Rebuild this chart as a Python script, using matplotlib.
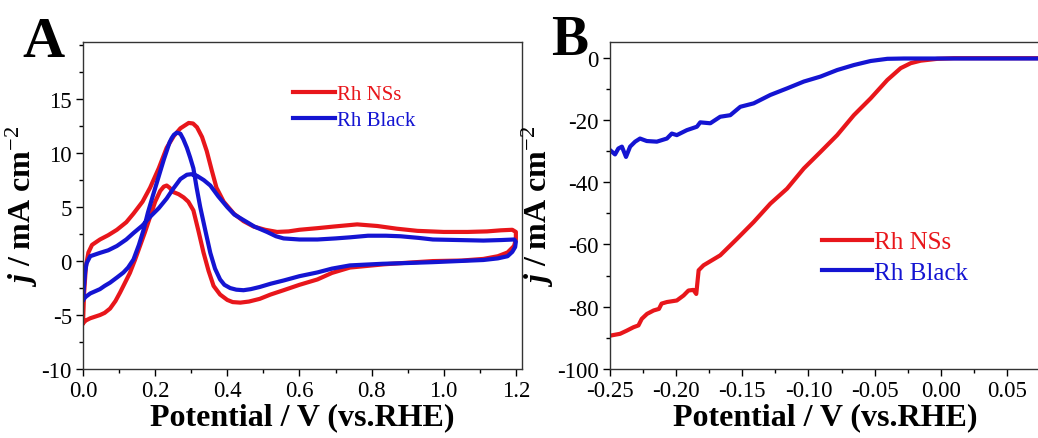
import numpy as np
import matplotlib
matplotlib.use('Agg')
import matplotlib.pyplot as plt
from matplotlib.ticker import MultipleLocator

plt.rcParams['font.family'] = 'Liberation Serif'
plt.rcParams['mathtext.fontset'] = 'custom'
plt.rcParams['mathtext.rm'] = 'Liberation Serif'
plt.rcParams['mathtext.it'] = 'Liberation Serif:italic:bold'
plt.rcParams['mathtext.bf'] = 'Liberation Serif:bold'
plt.rcParams['axes.unicode_minus'] = False

red = '#e8161b'
blue = '#1414d2'

# panel A: CV loops (potential V, current mA cm-2)
cv_nss_x = [0, 0.003, 0.008, 0.015, 0.025, 0.047, 0.07, 0.094, 0.12, 0.14, 0.165, 0.186, 0.21, 0.232,
            0.252, 0.27, 0.293, 0.305, 0.316, 0.33, 0.343, 0.357, 0.37, 0.39, 0.418, 0.445, 0.473,
            0.505, 0.538, 0.57, 0.6, 0.65, 0.695, 0.76, 0.816, 0.87, 0.927, 1.0, 1.066, 1.12, 1.158,
            1.19, 1.2, 1.2, 1.195, 1.177, 1.15, 1.11, 1.05, 0.97, 0.9, 0.834, 0.74, 0.69, 0.65, 0.6,
            0.556, 0.52, 0.49, 0.46, 0.436, 0.415, 0.4, 0.38, 0.362, 0.348, 0.334, 0.32, 0.306, 0.292,
            0.279, 0.265, 0.25, 0.24, 0.232, 0.224, 0.214, 0.2, 0.186, 0.172, 0.158, 0.144, 0.13,
            0.115, 0.103, 0.09, 0.075, 0.06, 0.047, 0.02, 0.008, 0]
cv_nss_y = [-5.75, -3, -0.5, 0.8, 1.5, 2.0, 2.4, 2.9, 3.6, 4.4, 5.5, 6.8, 8.6, 10.5,
            11.6, 12.3, 12.8, 12.75, 12.4, 11.5, 10.2, 8.4, 6.8, 5.5, 4.4, 3.7, 3.2,
            2.9, 2.7, 2.75, 2.9, 3.05, 3.2, 3.4, 3.25, 3.0, 2.8, 2.7, 2.7, 2.75, 2.85,
            2.9, 2.7, 2.0, 1.4, 0.8, 0.45, 0.2, 0.05, 0, -0.15, -0.3, -0.6, -1.1, -1.7, -2.2,
            -2.7, -3.1, -3.5, -3.75, -3.85, -3.8, -3.6, -3.1, -2.3, -0.9, 0.8, 2.8, 4.7, 5.5,
            5.9, 6.2, 6.4, 6.8, 7.0, 6.9, 6.5, 5.5, 4.1, 2.7, 1.4, 0.1, -1.1,
            -2.1, -2.9, -3.7, -4.4, -4.8, -5.0, -5.3, -5.5, -5.75]

cv_black_x = [0, 0.003, 0.006, 0.01, 0.02, 0.047, 0.07, 0.094, 0.12, 0.14, 0.165, 0.186, 0.21, 0.232,
              0.25, 0.27, 0.288, 0.3, 0.316, 0.335, 0.353, 0.375, 0.4, 0.42, 0.445, 0.475, 0.51,
              0.535, 0.556, 0.6, 0.65, 0.7, 0.74, 0.79, 0.84, 0.88, 0.93, 0.97, 1.04, 1.11, 1.16,
              1.195, 1.2, 1.198, 1.19, 1.177, 1.15, 1.11, 1.04, 0.97, 0.9, 0.83, 0.74, 0.69, 0.65,
              0.6, 0.556, 0.52, 0.49, 0.465, 0.445, 0.425, 0.408, 0.392, 0.38, 0.366, 0.353, 0.34,
              0.325, 0.315, 0.306, 0.297, 0.288, 0.278, 0.27, 0.26, 0.252, 0.246, 0.24, 0.232,
              0.224, 0.214, 0.205, 0.195, 0.18, 0.168, 0.155, 0.14, 0.125, 0.112, 0.095, 0.075,
              0.06, 0.047, 0.02, 0.008, 0]
cv_black_y = [-3.6, -2.2, -1.0, -0.2, 0.45, 0.76, 1.0, 1.4, 2.0, 2.6, 3.3, 4.1, 4.9, 5.8,
              6.7, 7.6, 8.0, 8.05, 7.9, 7.5, 7.0, 6.0, 5.0, 4.3, 3.8, 3.2, 2.7,
              2.3, 2.1, 2.0, 2.0, 2.1, 2.2, 2.35, 2.35, 2.3, 2.15, 2.0, 1.95, 1.9, 1.95,
              2.0, 1.8, 1.3, 0.85, 0.45, 0.25, 0.1, 0, -0.1, -0.18, -0.25, -0.4, -0.7, -1.05,
              -1.4, -1.8, -2.1, -2.4, -2.6, -2.7, -2.65, -2.5, -2.2, -1.7, -0.7, 0.75, 2.7,
              5.0, 6.8, 8.6, 9.6, 10.5, 11.3, 11.8, 11.9, 11.7, 11.4, 11.0, 10.2,
              9.4, 8.3, 7.3, 6.2, 4.5, 2.9, 1.5, 0.15, -0.6, -1.06, -1.5, -2.0,
              -2.3, -2.6, -3.0, -3.3, -3.6]

# panel B: polarization curves
lsv_nss_x = [-0.25, -0.2424, -0.2374, -0.2323, -0.2285, -0.226, -0.222, -0.217, -0.213, -0.211,
             -0.207, -0.1995, -0.1944, -0.1907, -0.187, -0.1848, -0.183, -0.1793, -0.1667, -0.154,
             -0.1414, -0.1288, -0.1162, -0.1035, -0.0909, -0.0783, -0.0657, -0.053, -0.0404,
             -0.0303, -0.0227, -0.0152, -0.0025, 0.01, 0.04, 0.075]
lsv_nss_y = [-89.3, -88.7, -87.7, -86.6, -86.0, -83.9, -82.3, -81.2, -80.7, -79.0,
             -78.5, -78.0, -76.4, -74.8, -74.6, -75.9, -68.3, -66.7, -63.5, -58.2,
             -52.8, -46.9, -42.1, -35.6, -30.3, -24.9, -18.5, -13.1, -7.2,
             -3.4, -1.8, -1.0, -0.4, -0.2, -0.2, -0.2]

lsv_black_x = [-0.25, -0.2462, -0.2437, -0.241, -0.2379, -0.2348, -0.231, -0.2273, -0.2222,
               -0.2146, -0.207, -0.2033, -0.1995, -0.1919, -0.1843, -0.1818, -0.1742, -0.1667,
               -0.1591, -0.1515, -0.1414, -0.1288, -0.1162, -0.1035, -0.0909, -0.0783, -0.0657,
               -0.053, -0.0404, -0.0278, 0.0, 0.04, 0.075]
lsv_black_y = [-29.7, -31.1, -29.2, -28.6, -31.9, -28.6, -27.0, -26.0, -26.8,
               -27.0, -26.0, -24.4, -24.9, -23.3, -22.2, -20.8, -21.1, -19.0,
               -18.5, -15.8, -14.7, -12.0, -9.9, -7.7, -6.1, -4.0, -2.4,
               -1.1, -0.4, -0.3, -0.3, -0.3, -0.3]

fig = plt.figure(figsize=(10.38, 4.39), dpi=100)
axA = fig.add_axes([83/1038, 1-370/439, (522-83)/1038, (370-43)/439])
axB = fig.add_axes([610/1038, 1-370/439, (1040-610)/1038, (370-43)/439])


def style(ax):
    for s in ax.spines.values():
        s.set_linewidth(1.0)
        s.set_color('#333333')
    ax.tick_params(which='major', direction='out', length=5, width=1, labelsize=16.5, pad=3)
    ax.tick_params(which='minor', direction='out', length=3, width=1)
    ax.set_xlabel('Potential / V (vs.RHE)', fontsize=23, fontweight='bold', labelpad=1)
    ax.set_ylabel(r'$\it{j}$ / mA cm$^{\rm{-2}}$', fontsize=23, fontweight='bold', labelpad=1)


axA.plot(cv_nss_x, cv_nss_y, color=red, lw=3, label='Rh NSs', solid_joinstyle='round')
axA.plot(cv_black_x, cv_black_y, color=blue, lw=3, label='Rh Black', solid_joinstyle='round')
axA.set_xlim(0, 1.217)
axA.set_ylim(-10, 20.3)
axA.xaxis.set_major_locator(MultipleLocator(0.2))
axA.xaxis.set_minor_locator(MultipleLocator(0.1))
axA.set_yticks([-10, -5, 0, 5, 10, 15])
axA.yaxis.set_minor_locator(MultipleLocator(2.5))
axA.xaxis.set_major_formatter(plt.FormatStrFormatter('%.1f'))
style(axA)
axA.legend(loc='upper left', bbox_to_anchor=(0.478, 0.87), frameon=False, fontsize=15,
           handlelength=2.0, handletextpad=0.1, borderpad=0, borderaxespad=0,
           labelspacing=0.3, labelcolor='linecolor')

axB.plot(lsv_nss_x, lsv_nss_y, color=red, lw=3, label='Rh NSs')
axB.plot(lsv_black_x, lsv_black_y, color=blue, lw=3, label='Rh Black')
axB.set_xlim(-0.25, 0.075)
axB.set_ylim(-100, 5)
axB.xaxis.set_major_locator(MultipleLocator(0.05))
axB.xaxis.set_minor_locator(MultipleLocator(0.025))
axB.yaxis.set_major_locator(MultipleLocator(20))
axB.yaxis.set_minor_locator(MultipleLocator(10))
axB.xaxis.set_major_formatter(plt.FormatStrFormatter('%.2f'))
style(axB)
axB.legend(loc='upper left', bbox_to_anchor=((822-610)/430, (370-232)/327), frameon=False,
           fontsize=18, handlelength=2.0, handletextpad=0.1, borderpad=0, borderaxespad=0,
           labelspacing=0.3, labelcolor='linecolor')

fig.text(22/1038, 1-57/439, 'A', fontsize=42, fontweight='bold', va='baseline')
fig.text(588/1038, 1-55/439, 'B', fontsize=40, fontweight='bold', va='baseline', ha='right')

fig.savefig('out.png', dpi=100)
